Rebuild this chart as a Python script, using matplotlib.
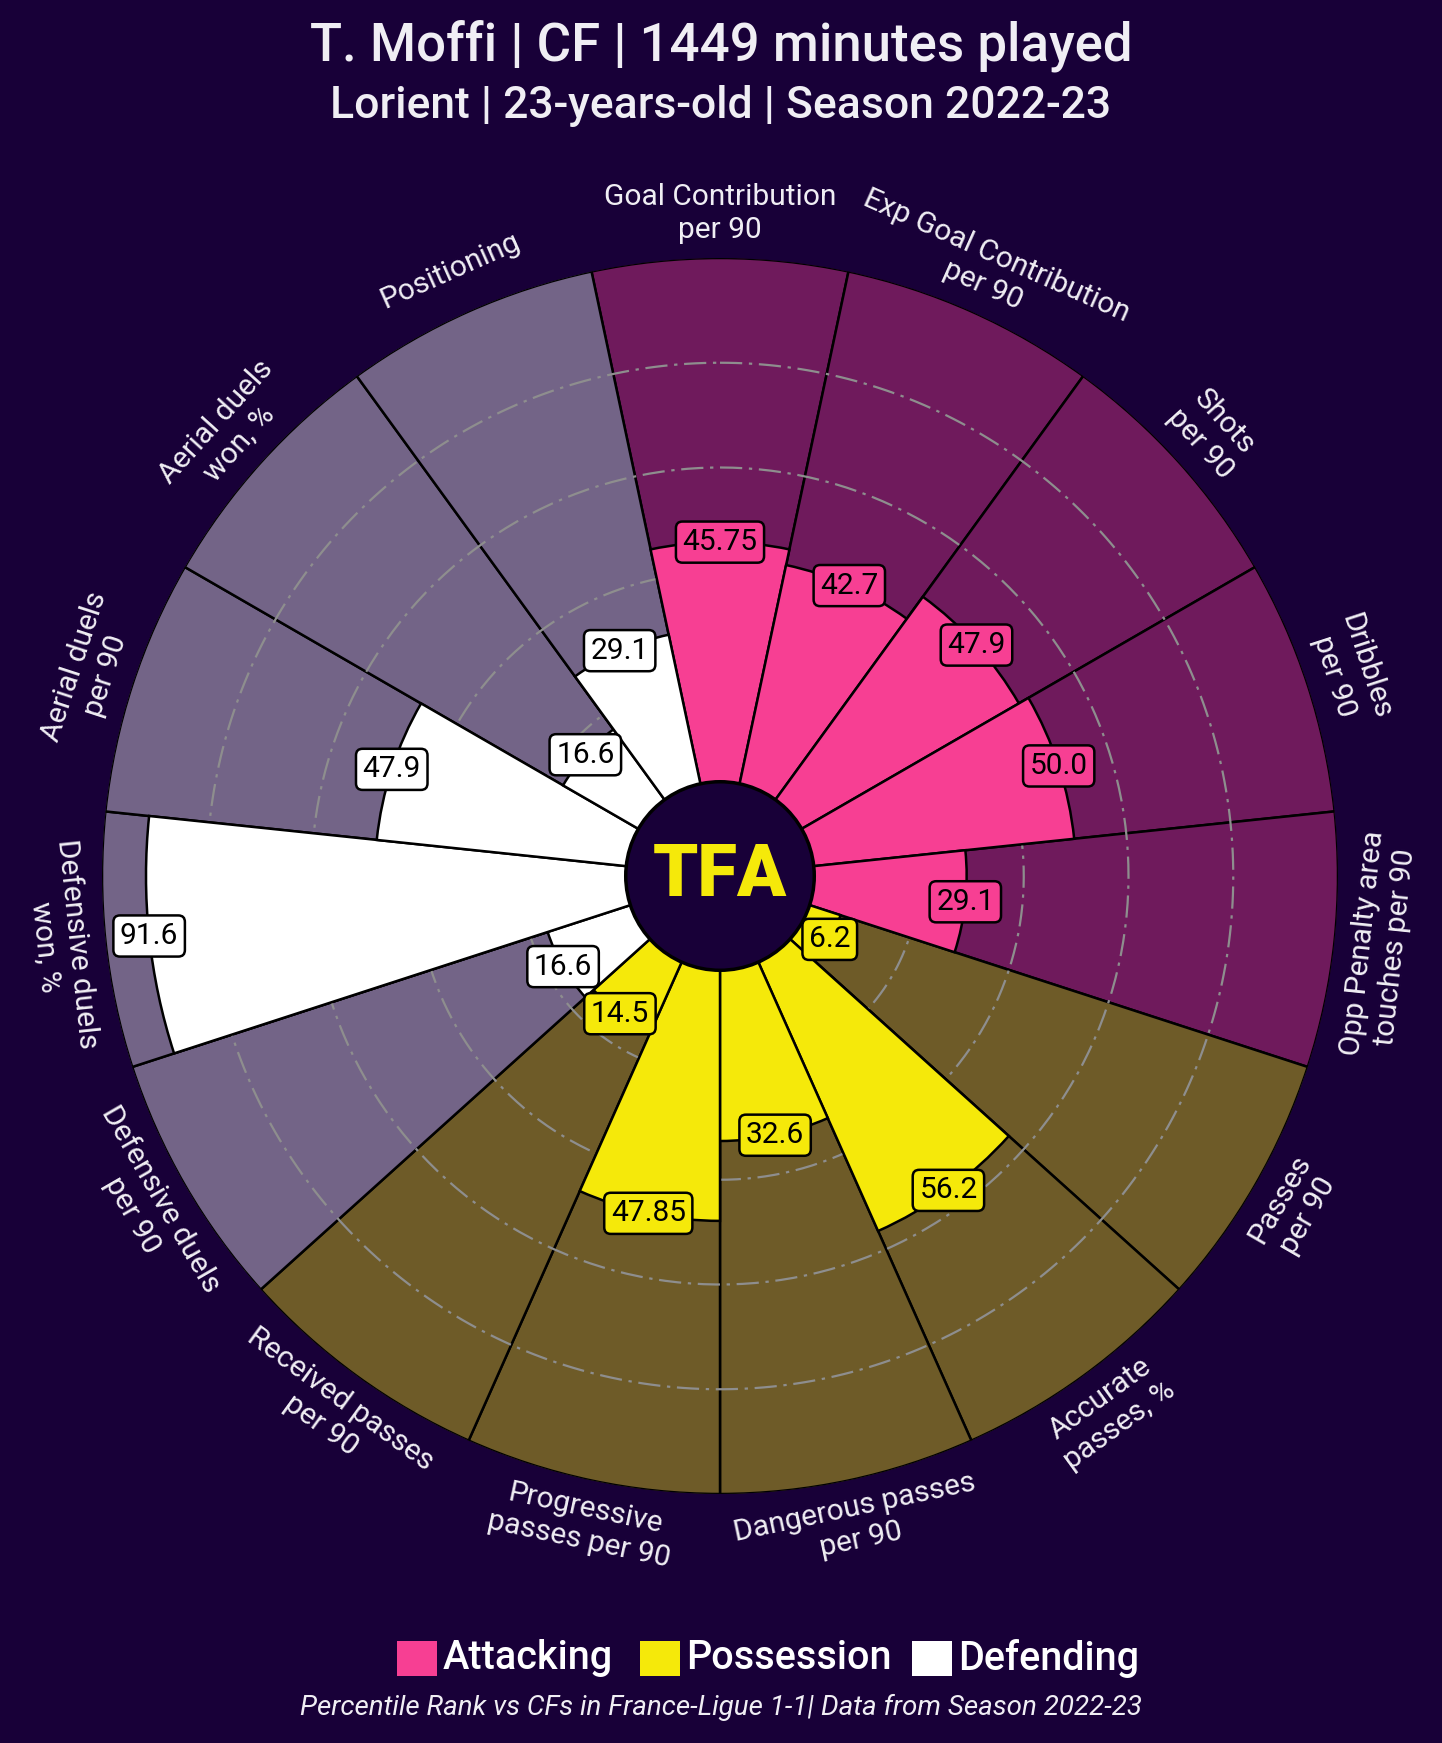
import numpy as np
import matplotlib.pyplot as plt
from matplotlib.patches import Circle, Rectangle

plt.rcParams['font.family'] = ['Roboto', 'DejaVu Sans']

# ---- data ----
params = ["Goal Contribution\nper 90", "Exp Goal Contribution\nper 90", "Shots\nper 90",
          "Dribbles\nper 90", "Opp Penalty area\ntouches per 90",
          "Passes\nper 90", "Accurate\npasses, %", "Dangerous passes\nper 90",
          "Progressive\npasses per 90", "Received passes\nper 90",
          "Defensive duels\nper 90", "Defensive duels\nwon, %", "Aerial duels\nper 90",
          "Aerial duels\nwon, %", "Positioning"]
values = [45.75, 42.7, 47.9, 50.0, 29.1,
          6.2, 56.2, 32.6, 47.85, 14.5,
          16.6, 91.6, 47.9, 16.6, 29.1]
value_labels = ["45.75", "42.7", "47.9", "50.0", "29.1",
                "6.2", "56.2", "32.6", "47.85", "14.5",
                "16.6", "91.6", "47.9", "16.6", "29.1"]
groups = ["Attacking"] * 5 + ["Possession"] * 5 + ["Defending"] * 5
group_names = ["Attacking", "Possession", "Defending"]

BG = "#180038"
slice_col = {"Attacking": "#f73f93", "Possession": "#f5e90a", "Defending": "#ffffff"}
back_col = {"Attacking": "#6f1a5c", "Possession": "#6e5b28", "Defending": "#736487"}
TXT = "#f0eef4"
R0 = -18  # radial value at the centre

fig = plt.figure(figsize=(14.42, 17.43), dpi=100, facecolor=BG)
cx, cy, R = 720, 876, 618
W, H = 1442, 1743
ax = fig.add_axes([(cx - R) / W, (H - cy - R) / H, 2 * R / W, 2 * R / H], projection='polar')
ax.set_facecolor(BG)
ax.set_theta_zero_location('N')
ax.set_theta_direction(-1)
ax.set_ylim(R0, 100)

n = len(params)
width = 2 * np.pi / n
theta = np.arange(n) * width

# background slices
ax.bar(theta, [100 - R0] * n, width=width, bottom=R0,
       color=[back_col[g] for g in groups], edgecolor='black', linewidth=1.8, zorder=1)
# value slices
ax.bar(theta, np.array(values) - R0, width=width, bottom=R0,
       color=[slice_col[g] for g in groups], edgecolor='black', linewidth=1.8, zorder=3)

# grid rings
tt = np.linspace(0, 2 * np.pi, 400)
for r in [20, 40, 60, 80]:
    ax.plot(tt, [r] * len(tt), color='#8e8e8e', lw=1.6, ls=(0, (10, 3, 1.5, 3)), zorder=2)

ax.grid(False)
ax.set_xticks([])
ax.set_yticks([])
ax.spines['polar'].set_visible(False)

# value boxes
for t, v, lab, g in zip(theta, values, value_labels, groups):
    ax.text(t, v, lab, ha='center', va='center', fontsize=21.5, color='black', zorder=6,
            bbox=dict(boxstyle='round,pad=0.22', fc=slice_col[g], ec='black', lw=1.8))

# parameter labels
for t, p in zip(theta, params):
    deg = np.degrees(t)
    rot = -deg
    if 90 < deg < 270:
        rot = 180 - deg
    ax.text(t, 108.5, p, ha='center', va='center', rotation=rot, rotation_mode='anchor',
            fontsize=21.5, color=TXT, multialignment='center', zorder=6)

# center circle with logo
ax.add_patch(Circle((0.5, 0.5), 0.5 * (0 - R0) / (100 - R0), transform=ax.transAxes, fc=BG,
                    ec='black', lw=2.5, zorder=7))
ax.text(0.5, 0.5, "TFA", transform=ax.transAxes, ha='center', va='center', fontsize=52,
        fontweight='black', color='#f5e90a', zorder=8)

# titles
fig.text(0.5, 1 - 46 / H, "T. Moffi | CF | 1449 minutes played", ha='center', va='center',
         fontsize=38, fontweight='medium', color=TXT)
fig.text(0.5, 1 - 106 / H, "Lorient | 23-years-old | Season 2022-23", ha='center', va='center',
         fontsize=32, fontweight='medium', color=TXT)

# legend
leg_x = [397, 640, 912]
for x0, g in zip(leg_x, group_names):
    fig.patches.append(Rectangle((x0 / W, 1 - 1676 / H), 40 / W, 35 / H, transform=fig.transFigure,
                                 fc=slice_col[g], ec='none'))
    fig.text((x0 + 46) / W, 1 - 1658 / H, g, ha='left', va='center', fontsize=28.5,
             fontweight='medium', color='white')

fig.text(0.5, 1 - 1707 / H, "Percentile Rank vs CFs in France-Ligue 1-1| Data from Season 2022-23",
         ha='center', va='center', fontsize=20, style='italic', color=TXT)

fig.savefig("out.png", dpi=100, facecolor=BG)
